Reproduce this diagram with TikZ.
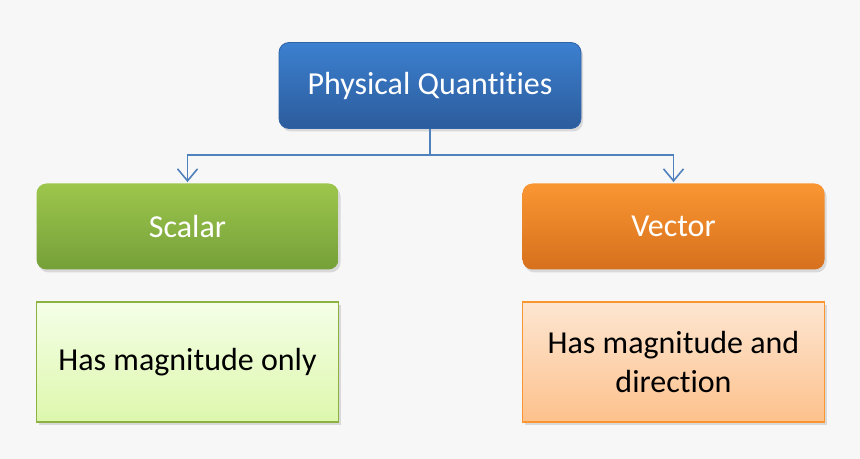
\documentclass[tikz,border=0pt]{standalone}
\usepackage{fontspec}
\setmainfont[RawFeature=-liga]{Carlito}
\usetikzlibrary{arrows.meta,shadows}

\definecolor{bggray}{HTML}{F7F7F7}
\definecolor{linkblue}{HTML}{4F81BD}
\definecolor{bluetop}{HTML}{3C80D0}
\definecolor{bluebot}{HTML}{2C5C9C}
\definecolor{greentop}{HTML}{9DC64C}
\definecolor{greenbot}{HTML}{75A039}
\definecolor{orangetop}{HTML}{FA9632}
\definecolor{orangebot}{HTML}{D6701D}
\definecolor{palegreentop}{HTML}{F5FFE8}
\definecolor{palegreenbot}{HTML}{DDF7AC}
\definecolor{paleorangetop}{HTML}{FDE6D2}
\definecolor{paleorangebot}{HTML}{FDC18C}

\tikzstyle{quantity} = [rounded corners=5pt, minimum width=151pt, minimum height=43pt,
    text=white, font=\fontsize{16}{19.5}\selectfont,
    drop shadow={opacity=0.25, shadow xshift=1pt, shadow yshift=-1.5pt}]
\tikzstyle{meaning} = [draw, line width=0.8pt, minimum width=151pt, minimum height=60pt,
    text=black, align=center, font=\fontsize{16}{19.5}\selectfont,
    drop shadow={opacity=0.25, shadow xshift=1pt, shadow yshift=-1.5pt}]
\tikzstyle{link} = [draw=linkblue, line width=0.8pt]

\begin{document}
\begin{tikzpicture}[x=0.5pt, y=-0.5pt]
\path[fill=bggray, use as bounding box] (0,0) rectangle (860,459);

\node[quantity, top color=bluetop, bottom color=bluebot, draw=bluebot!80!bluetop] (phys) at (430,85.5) {Physical Quantities};

\node[quantity, top color=greentop, bottom color=greenbot] (scalar) at (187.5,226.5) {Scalar};
\node[quantity, top color=orangetop, bottom color=orangebot] (vector) at (673.5,226.5) {Vector};

\node[meaning, draw=greentop!90!black, top color=palegreentop, bottom color=palegreenbot] (scalarinfo) at (187.5,362) {Has magnitude only};
\node[meaning, draw=orangetop, top color=paleorangetop, bottom color=paleorangebot] (vectorinfo) at (673.5,362) {Has magnitude and\\direction};

% branches
\coordinate (split) at (430,155);
\draw[link] (phys.south) -- (split);
\draw[link, -{Straight Barb[length=6pt, width=10pt]}] (split) -| ([yshift=0.5pt]scalar.north);
\draw[link, -{Straight Barb[length=6pt, width=10pt]}] (split) -| ([yshift=0.5pt]vector.north);
\end{tikzpicture}
\end{document}
